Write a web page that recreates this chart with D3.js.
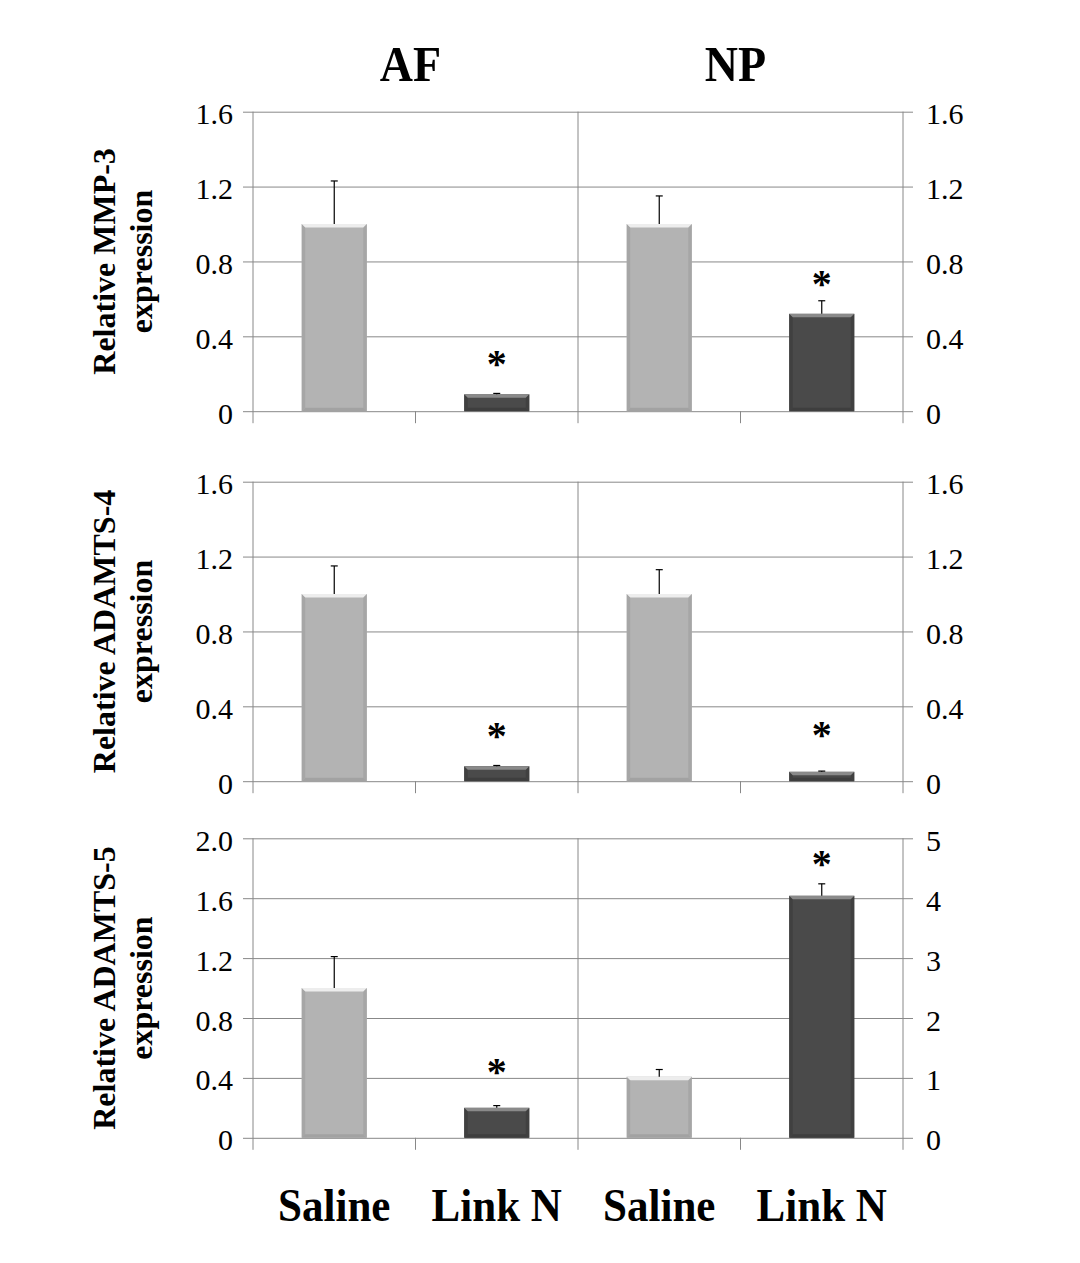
<!DOCTYPE html>
<html><head><meta charset="utf-8">
<script src="https://cdn.jsdelivr.net/npm/d3@7"></script>
<style>html,body{margin:0;padding:0;background:#fff;}</style>
</head><body>
<svg id="chart" width="1080" height="1263"></svg>
<script>
// ---- data ----
const groups = ["AF", "NP"];
const treatments = ["Saline", "Link N"];
const genes = ["MMP-3", "ADAMTS-4", "ADAMTS-5"];
const meanAF = [[1.00, 0.09], [1.00, 0.08], [1.00, 0.20]];
const errAF  = [[0.23, 0.005], [0.15, 0.004], [0.21, 0.015]];
const meanNP = [[1.00, 0.52], [1.00, 0.05], [1.02, 4.04]];
const errNP  = [[0.15, 0.07], [0.13, 0.004], [0.12, 0.20]];
const starAF = [0.283, 0.273, 0.482];   // asterisk height (axis units) above Link N
const starNP = [0.711, 0.278, 4.67];
const leftMax  = [1.6, 1.6, 2.0];
const rightMax = [1.6, 1.6, 5];
const leftTicks  = [[0, 0.4, 0.8, 1.2, 1.6], [0, 0.4, 0.8, 1.2, 1.6], [0, 0.4, 0.8, 1.2, 1.6, 2.0]];
const rightTicks = [[0, 0.4, 0.8, 1.2, 1.6], [0, 0.4, 0.8, 1.2, 1.6], [0, 1, 2, 3, 4, 5]];
const rightDecimals = [1, 1, 0];

// ---- layout ----
const svg = d3.select("#chart");
const FONT = "'Liberation Serif','Times New Roman',serif";
const gridColor = "#888888";
const plotL = 253, plotR = 903;
const panelTop = [111.7, 481.7, 838.3];
const panelH = 299.5;

const xOuter = d3.scaleBand().domain(groups).range([plotL, plotR]).padding(0);
const xInner = d3.scaleBand().domain(treatments).range([0, xOuter.bandwidth()]).paddingInner(0.6).paddingOuter(0.3);
const fmtDec = dec => v => v === 0 ? "0" : d3.format("." + dec + "f")(v);

const colors = {
  "Saline": {fill: "#b3b3b3", top: "#ededed", side: "#a6a6a6", bottom: "#a2a2a2"},
  "Link N": {fill: "#4a4a4a", top: "#8a8a8a", side: "#404040", bottom: "#3e3e3e"}
};

// column titles
groups.forEach(g => {
  svg.append("text")
    .attr("transform", `translate(${xOuter(g) + xOuter.bandwidth() / 2 - 5},81) scale(1,1.1)`)
    .attr("text-anchor", "middle")
    .attr("font-family", FONT).attr("font-weight", "bold")
    .attr("font-size", 46)
    .text(g);
});

genes.forEach((gene, pi) => {
  const top = panelTop[pi], bottom = top + panelH;
  const yL = d3.scaleLinear().domain([0, leftMax[pi]]).range([bottom, top]);
  const yR = d3.scaleLinear().domain([0, rightMax[pi]]).range([bottom, top]);
  const pg = svg.append("g");

  // left axis + horizontal gridlines
  const axL = pg.append("g").attr("transform", `translate(${plotR + 10},0)`)
    .call(d3.axisLeft(yL).tickValues(leftTicks[pi]).tickFormat(fmtDec(1)).tickSize(plotR + 10 - (plotL - 10)).tickPadding(10));
  axL.select(".domain").remove();
  axL.selectAll(".tick line").attr("stroke", gridColor);
  axL.selectAll(".tick text").attr("font-family", FONT).attr("font-size", 30).attr("fill", "#000").attr("dy", "0.4em");

  // right axis labels
  const axR = pg.append("g").attr("transform", `translate(${plotR},0)`)
    .call(d3.axisRight(yR).tickValues(rightTicks[pi]).tickFormat(fmtDec(rightDecimals[pi])).tickSize(0).tickPadding(23));
  axR.select(".domain").remove();
  axR.selectAll(".tick text").attr("font-family", FONT).attr("font-size", 30).attr("fill", "#000").attr("dy", "0.4em");

  // vertical lines: group boundaries
  const bounds = [plotL, ...groups.map(g => xOuter(g) + xOuter.bandwidth())];
  pg.selectAll(".vb").data(bounds).enter().append("line")
    .attr("x1", d => d).attr("x2", d => d)
    .attr("y1", top).attr("y2", bottom + 12)
    .attr("stroke", gridColor).attr("stroke-width", 1);
  // category ticks between treatments
  const mids = groups.map(g => xOuter(g) + xOuter.bandwidth() / 2);
  pg.selectAll(".vm").data(mids).enter().append("line")
    .attr("x1", d => d).attr("x2", d => d)
    .attr("y1", bottom).attr("y2", bottom + 12)
    .attr("stroke", gridColor).attr("stroke-width", 1);

  // bars
  groups.forEach(g => {
    const y = g === "AF" ? yL : yR;
    const means = g === "AF" ? meanAF[pi] : meanNP[pi];
    const errs = g === "AF" ? errAF[pi] : errNP[pi];
    treatments.forEach((t, ti) => {
      const x0 = xOuter(g) + xInner(t), w = xInner.bandwidth();
      const y0 = y(means[ti]), h = bottom - y0;
      const c = colors[t];
      const b = Math.min(3.5, h / 2);
      const bg = pg.append("g");
      bg.append("rect").attr("x", x0).attr("y", y0).attr("width", w).attr("height", h).attr("fill", c.fill);
      bg.append("polygon").attr("points", [[x0, y0], [x0 + b, y0 + b], [x0 + b, y0 + h - b], [x0, y0 + h]].join(" ")).attr("fill", c.side);
      bg.append("polygon").attr("points", [[x0 + w, y0], [x0 + w - b, y0 + b], [x0 + w - b, y0 + h - b], [x0 + w, y0 + h]].join(" ")).attr("fill", c.side);
      bg.append("polygon").attr("points", [[x0, y0 + h], [x0 + b, y0 + h - b], [x0 + w - b, y0 + h - b], [x0 + w, y0 + h]].join(" ")).attr("fill", c.bottom);
      bg.append("polygon").attr("points", [[x0, y0], [x0 + w, y0], [x0 + w - b, y0 + b], [x0 + b, y0 + b]].join(" ")).attr("fill", c.top);
      // error bar
      const cx = x0 + w / 2, ye = y(means[ti] + errs[ti]);
      bg.append("line").attr("x1", cx).attr("x2", cx).attr("y1", y0).attr("y2", ye).attr("stroke", "#000").attr("stroke-width", 1.2);
      bg.append("line").attr("x1", cx - 3.5).attr("x2", cx + 3.5).attr("y1", ye).attr("y2", ye).attr("stroke", "#000").attr("stroke-width", 1.2);
    });
    // asterisk over Link N
    const sv = g === "AF" ? starAF[pi] : starNP[pi];
    pg.append("text")
      .attr("x", xOuter(g) + xInner("Link N") + xInner.bandwidth() / 2)
      .attr("y", y(sv) + 19)
      .attr("text-anchor", "middle")
      .attr("font-family", FONT).attr("font-weight", "bold").attr("font-size", 40)
      .text("*");
  });

  // y-axis title (two lines, rotated)
  const cy = (top + bottom) / 2;
  const tt = pg.append("text")
    .attr("transform", `translate(0,${cy}) rotate(-90)`)
    .attr("text-anchor", "middle")
    .attr("font-family", FONT).attr("font-weight", "bold").attr("font-size", 32);
  tt.append("tspan").attr("x", 0).attr("y", 115).text("Relative " + gene);
  tt.append("tspan").attr("x", 0).attr("y", 152).text("expression");
});

// x-axis labels
groups.forEach(g => {
  treatments.forEach(t => {
    svg.append("text")
      .attr("transform", `translate(${xOuter(g) + xInner(t) + xInner.bandwidth() / 2},1221) scale(1,1.08)`)
      .attr("text-anchor", "middle")
      .attr("font-family", FONT).attr("font-weight", "bold").attr("font-size", 43)
      .text(t);
  });
});
</script>
</body></html>
